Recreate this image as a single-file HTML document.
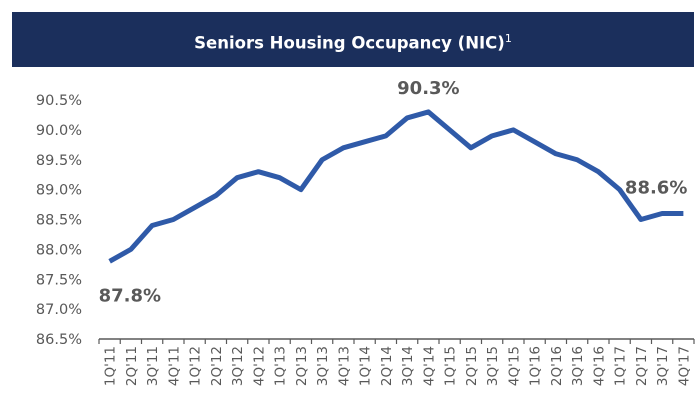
<!DOCTYPE html>
<html><head><meta charset="utf-8"><style>
body{margin:0;background:#fff;font-family:"DejaVu Sans","Liberation Sans",sans-serif;}
#wrap{position:relative;width:700px;height:401px;overflow:hidden;}
#title{position:absolute;left:12px;top:12px;width:682px;height:55px;background:#1b2f5c;color:#fff;font-weight:bold;font-size:16.5px;line-height:54px;text-align:center;}
svg{position:absolute;left:0;top:0;font-family:"DejaVu Sans","Liberation Sans",sans-serif;}
</style></head><body>
<div id="wrap">
<div id="title">Seniors Housing Occupancy (NIC)<sup style="font-size:11px;font-weight:normal">1</sup></div>
<svg id="c" width="700" height="401"></svg>
</div>
<script>
const categories=["1Q'11","2Q'11","3Q'11","4Q'11","1Q'12","2Q'12","3Q'12","4Q'12","1Q'13","2Q'13","3Q'13","4Q'13","1Q'14","2Q'14","3Q'14","4Q'14","1Q'15","2Q'15","3Q'15","4Q'15","1Q'16","2Q'16","3Q'16","4Q'16","1Q'17","2Q'17","3Q'17","4Q'17"];
const occupancy=[87.8,88.0,88.4,88.5,88.7,88.9,89.2,89.3,89.2,89.0,89.5,89.7,89.8,89.9,90.2,90.3,90.0,89.7,89.9,90.0,89.8,89.6,89.5,89.3,89.0,88.5,88.6,88.6];
const yTicks=[86.5,87.0,87.5,88.0,88.5,89.0,89.5,90.0,90.5];
const annotations=[{i:0,text:"87.8%",dy:40},{i:15,text:"90.3%",dy:-18},{i:27,text:"88.6%",dy:-20}];
const svg=document.getElementById('c');const NS='http://www.w3.org/2000/svg';
const x0=99,x1=694,yBot=339,yTop=100;
const bw=(x1-x0)/categories.length;
const X=i=>x0+bw*(i+0.5);
const Y=v=>yBot-(v-86.5)/(90.5-86.5)*(yBot-yTop);
function mk(t,a){const e=document.createElementNS(NS,t);for(const k in a)e.setAttribute(k,a[k]);svg.appendChild(e);return e;}
yTicks.forEach(v=>{const t=mk('text',{x:82,y:Y(v)+5,'text-anchor':'end','font-size':14.5,fill:'#595959'});t.textContent=v.toFixed(1)+'%';

});
const ax=mk('line',{x1:x0,x2:x1,y1:yBot,y2:yBot,stroke:'#595959','stroke-width':1.5});


for(let i=0;i<=categories.length;i++){const tk=mk('line',{x1:x0+bw*i,x2:x0+bw*i,y1:yBot,y2:yBot+5,stroke:'#595959','stroke-width':1.2});

}
categories.forEach((c,i)=>{const t=mk('text',{x:0,y:0,transform:`translate(${X(i)+5},${yBot+7}) rotate(-90)`,'text-anchor':'end','font-size':13.5,fill:'#595959'});t.textContent=c;

});
const p=mk('polyline',{points:occupancy.map((v,i)=>X(i)+','+Y(v)).join(' '),fill:'none',stroke:'#2f5aa8','stroke-width':5,'stroke-linejoin':'round'});


annotations.forEach(a=>{const t=mk('text',{x:X(a.i),y:Y(occupancy[a.i])+a.dy,'text-anchor':a.i==27?'end':(a.i==0?'start':'middle'),'font-size':18,'font-weight':'bold',fill:'#595959'});
if(a.i==0)t.setAttribute('x',X(0)-11);
if(a.i==27)t.setAttribute('x',X(27)+4);
t.textContent=a.text;

});
</script>
</body></html>
